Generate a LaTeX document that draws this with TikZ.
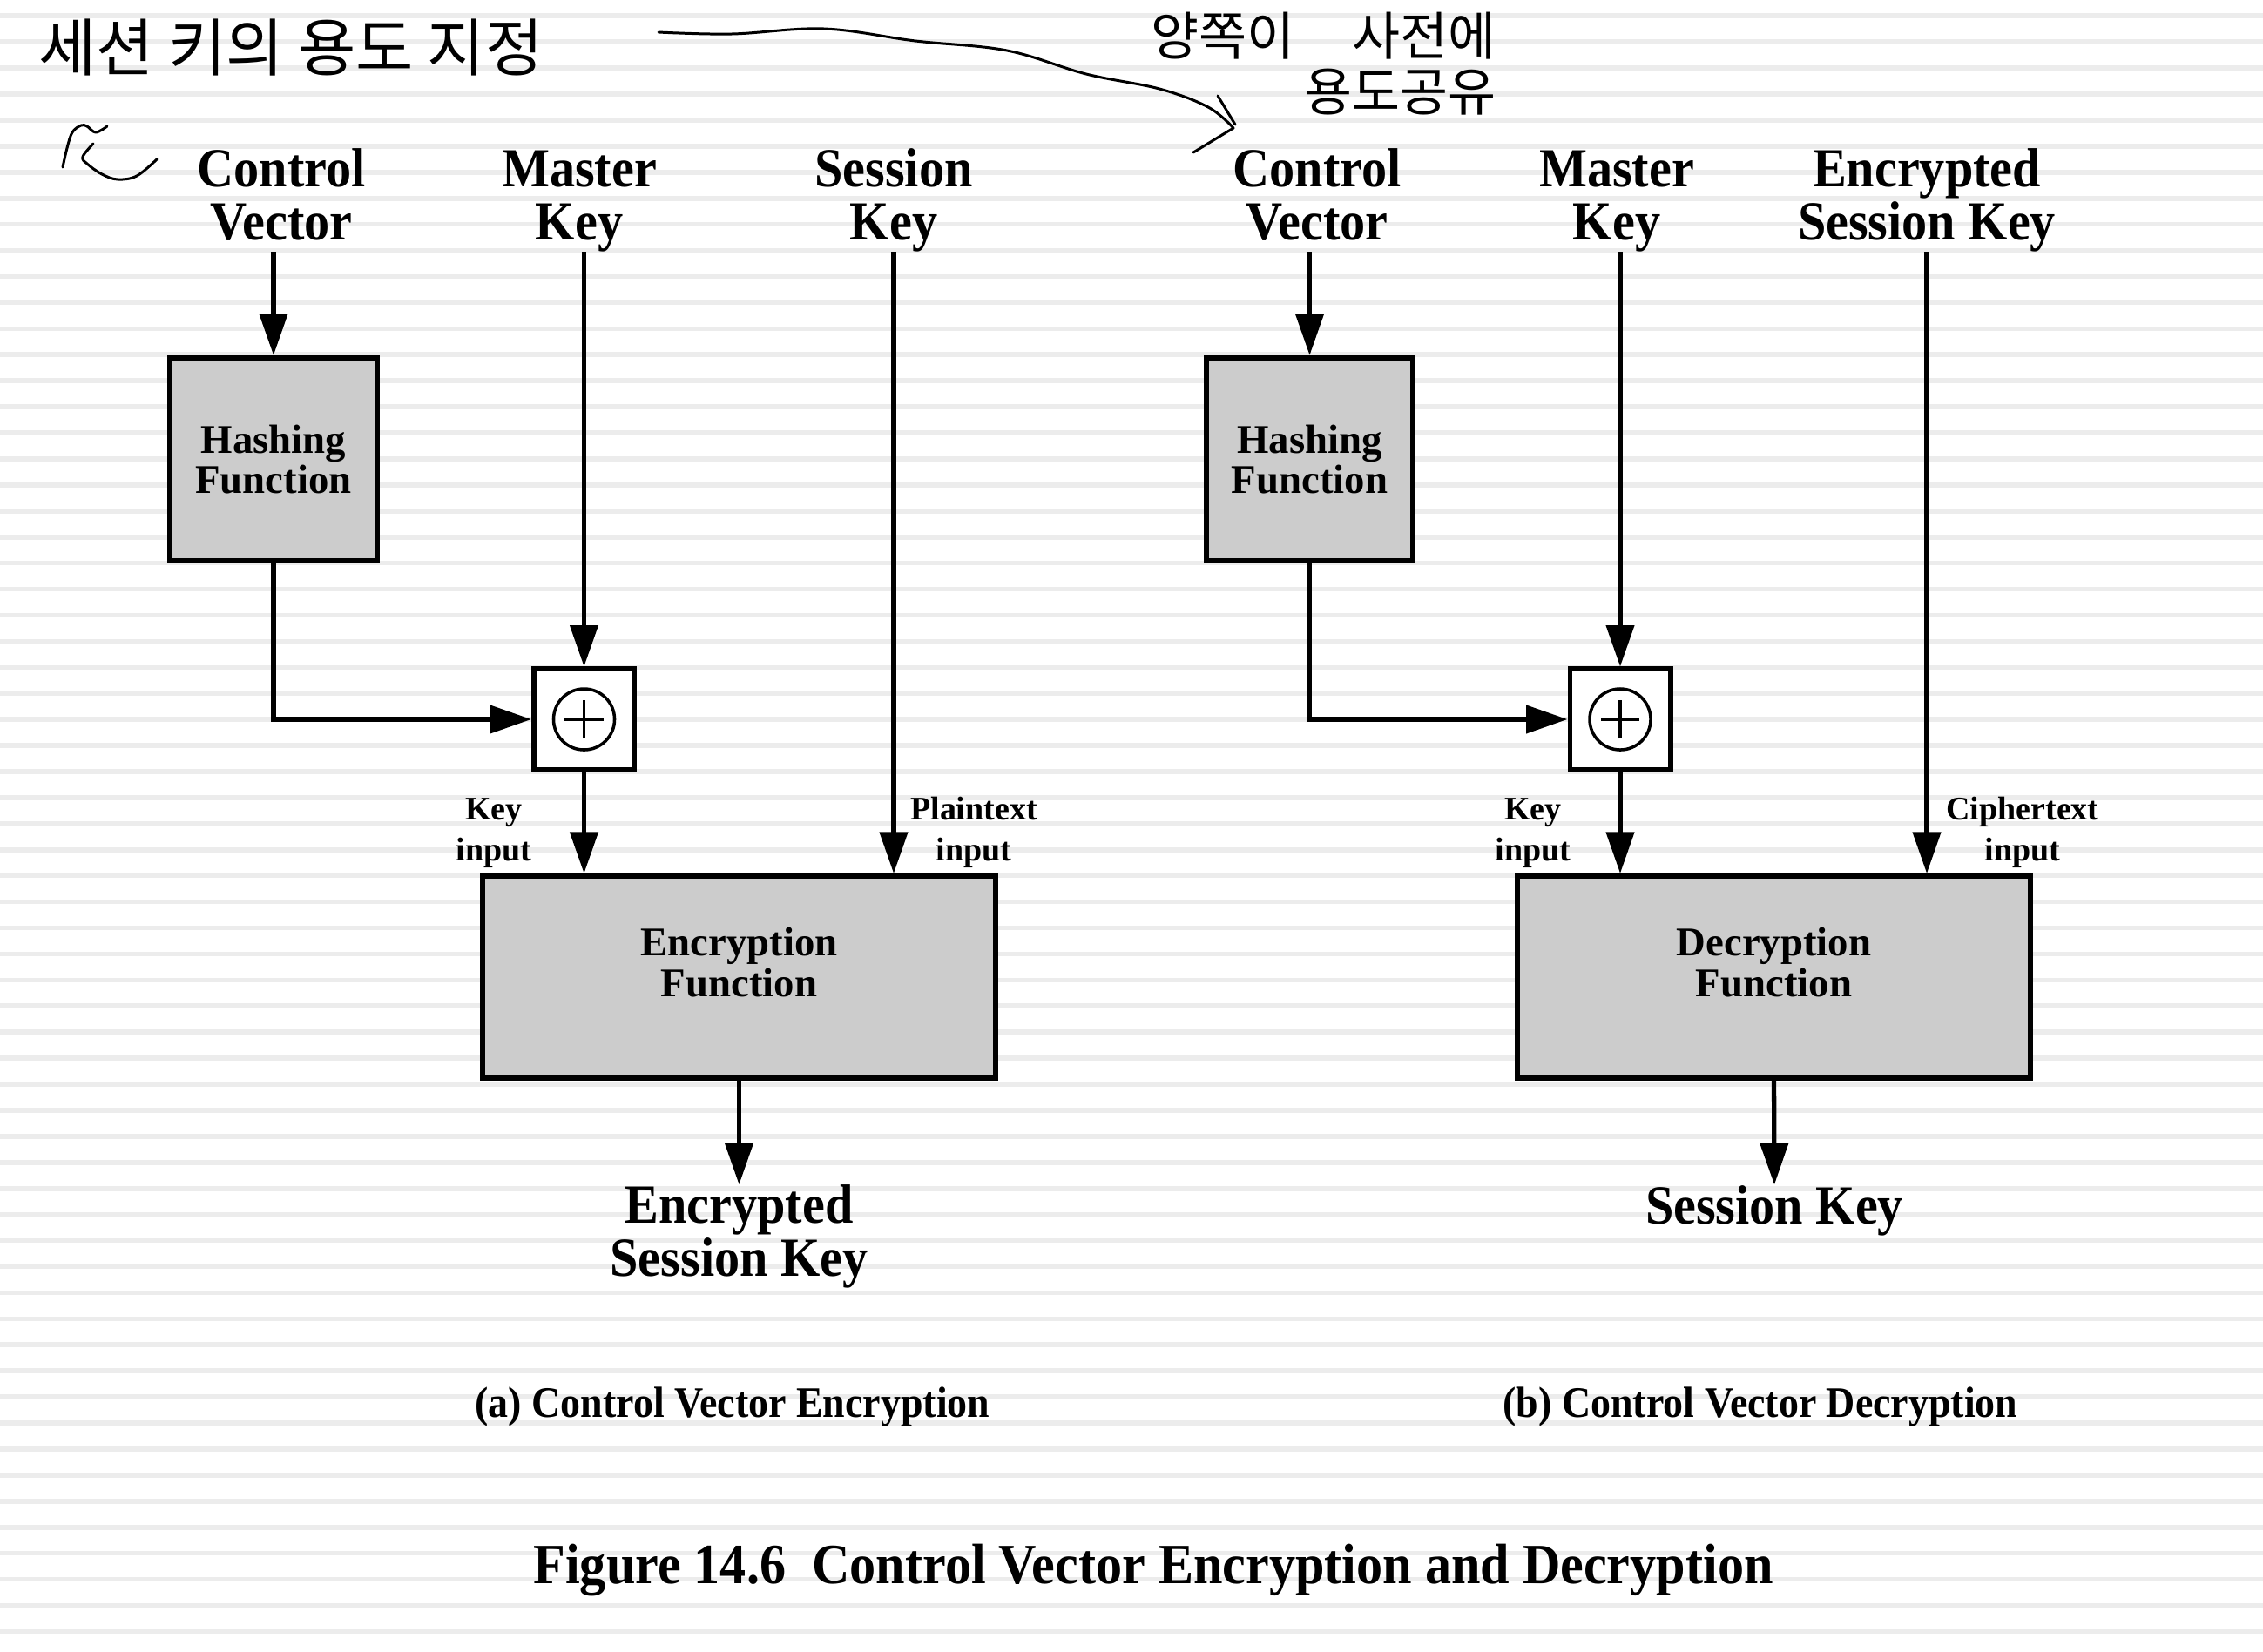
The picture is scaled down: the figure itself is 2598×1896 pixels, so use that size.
\documentclass[tikz,border=0pt]{standalone}
\usepackage{fontspec}
\setmainfont{Liberation Serif}
\newfontfamily\condf{Liberation Serif}[FakeStretch=0.92]
\newfontfamily\korf{Noto Sans CJK KR}
\usetikzlibrary{arrows.meta,calc}
\definecolor{stripecol}{gray}{0.925}
\definecolor{boxfill}{gray}{0.8}
\tikzset{
 every node/.style={inner sep=0pt},
 toplab/.style={font=\condf\bfseries\fontsize{18}{17.1}\selectfont, align=center, anchor=base},
 smalllab/.style={font=\bfseries\fontsize{10.8}{13.1}\selectfont, align=center, anchor=base},
 fbox/.style={draw, line width=1.7pt, fill=boxfill, font=\bfseries\fontsize{13.3}{13.1}\selectfont, align=center},
 boxtxt/.style={font=\bfseries\fontsize{13.3}{13.1}\selectfont, align=center},
 xorbox/.style={draw, line width=1.7pt, fill=white, minimum width=1.15cm, minimum height=1.15cm,
   path picture={
     \draw[line width=1pt] (path picture bounding box.center) circle[radius=0.35cm];
     \draw[line width=1pt] ([xshift=-0.22cm]path picture bounding box.center) -- ([xshift=0.22cm]path picture bounding box.center);
     \draw[line width=1pt] ([yshift=-0.22cm]path picture bounding box.center) -- ([yshift=0.22cm]path picture bounding box.center);
   }},
 arr/.style={line width=1.5pt, -{Triangle[length=13.5pt,width=9pt]}},
 capt/.style={font=\condf\bfseries\fontsize{14.2}{17}\selectfont, anchor=base},
 figtitle/.style={font=\condf\bfseries\fontsize{18.6}{20}\selectfont, anchor=base},
 hand/.style={line width=0.85pt, line cap=round, line join=round},
 kor/.style={font=\korf\fontsize{20.5}{20}\selectfont},
 stripe/.style={draw=stripecol, line width=1.6pt},
}
\begin{document}
\begin{tikzpicture}[x=0.01cm, y=-0.01cm]
\useasboundingbox (0,0) rectangle (2598,1896);
\fill[white] (0,0) rectangle (2598,1896);
\foreach \k in {0,...,62} {
  \draw[stripe] (0,{18.3+29.92*\k}) -- (2598,{18.3+29.92*\k});
}

% ---------- (a) encryption ----------
\node[toplab] (cvL) at (323,275) {Control\\Vector\vphantom{y}};
\node[toplab] (mkL) at (665,275) {Master\\Key};
\node[toplab] (skL) at (1026,275) {Session\\Key};

\node[fbox, minimum width=2.37cm, minimum height=2.33cm] (hashL) at (314,527.5) {Hashing\\Function};
\node[xorbox] (xorL) at (670.5,826) {};
\node[fbox, minimum width=5.89cm, minimum height=2.32cm] (encL) at (848.5,1122) {};
\node[boxtxt] (encLt) at (848.5,1105) {Encryption\\Function};

\node[smalllab] (kiL) at (567,988) {Key\\input};
\node[smalllab] (ptL) at (1118,988) {Plaintext\\input};

\node[toplab] (eskL) at (848.5,1465) {Encrypted\\Session Key};

\draw[arr] (hashL.north |- cvL.south) -- (hashL.north);
\draw[arr] (xorL.north |- mkL.south) -- (xorL.north);
\draw[arr] (skL.south) -- (skL.south |- encL.north);
\draw[arr] (hashL.south) |- (xorL.west);
\draw[arr] (xorL.south) -- (xorL.south |- encL.north);
\draw[arr] (encL.south) -- (eskL.north);

% ---------- (b) decryption ----------
\node[toplab] (cvR) at (1512,275) {Control\\Vector\vphantom{y}};
\node[toplab] (mkR) at (1856,275) {Master\\Key};
\node[toplab] (eskR) at (2212,275) {Encrypted\\Session Key};

\node[fbox, minimum width=2.37cm, minimum height=2.33cm] (hashR) at (1503.5,527.5) {Hashing\\Function};
\node[xorbox] (xorR) at (1860,826) {};
\node[fbox, minimum width=5.89cm, minimum height=2.32cm] (decR) at (2036.5,1122) {};
\node[boxtxt] (decRt) at (2036.5,1105) {Decryption\\Function};

\node[smalllab] (kiR) at (1760,988) {Key\\input};
\node[smalllab] (ctR) at (2322,988) {Ciphertext\\input};

\node[toplab] (skR) at (2037,1405) {Session Key};

\draw[arr] (hashR.north |- cvR.south) -- (hashR.north);
\draw[arr] (xorR.north |- mkR.south) -- (xorR.north);
\draw[arr] (eskR.south) -- (eskR.south |- decR.north);
\draw[arr] (hashR.south) |- (xorR.west);
\draw[arr] (xorR.south) -- (xorR.south |- decR.north);
\draw[arr] (decR.south) -- (skR.north);

% ---------- captions ----------
\node[capt] (capA) at (841,1627) {(a) Control Vector Encryption};
\node[capt] (capB) at (2021,1627) {(b) Control Vector Decryption};
\node[figtitle] (figT) at (1324,1818) {Figure 14.6\ \ Control Vector Encryption and Decryption};

% ---------- handwritten notes ----------
\node[kor] (noteL) at (334,55) {세션 키의 용도 지정};
\node[font=\korf\fontsize{17}{18.2}\selectfont, align=right, anchor=east] (noteR) at (1718,73) {양쪽이\hspace{1.1em}사전에\\용도공유};

\draw[hand] plot[smooth, tension=0.6] coordinates {(756,37) (840,39) (946,33) (1051,47) (1156,58) (1247,85) (1331,102) (1387,123) (1416,147)} -- (1370,175);
\draw[hand] (1398,110) -- (1418,143);

\draw[hand] plot[smooth, tension=0.6] coordinates {(123,145) (110,152) (100,145) (93,144) (83,152) (77,170) (72,192)};
\draw[hand] plot[smooth, tension=0.6] coordinates {(107,165) (95,180) (100,188) (117,200) (135,206) (157,202) (180,183)};
\end{tikzpicture}
\end{document}
